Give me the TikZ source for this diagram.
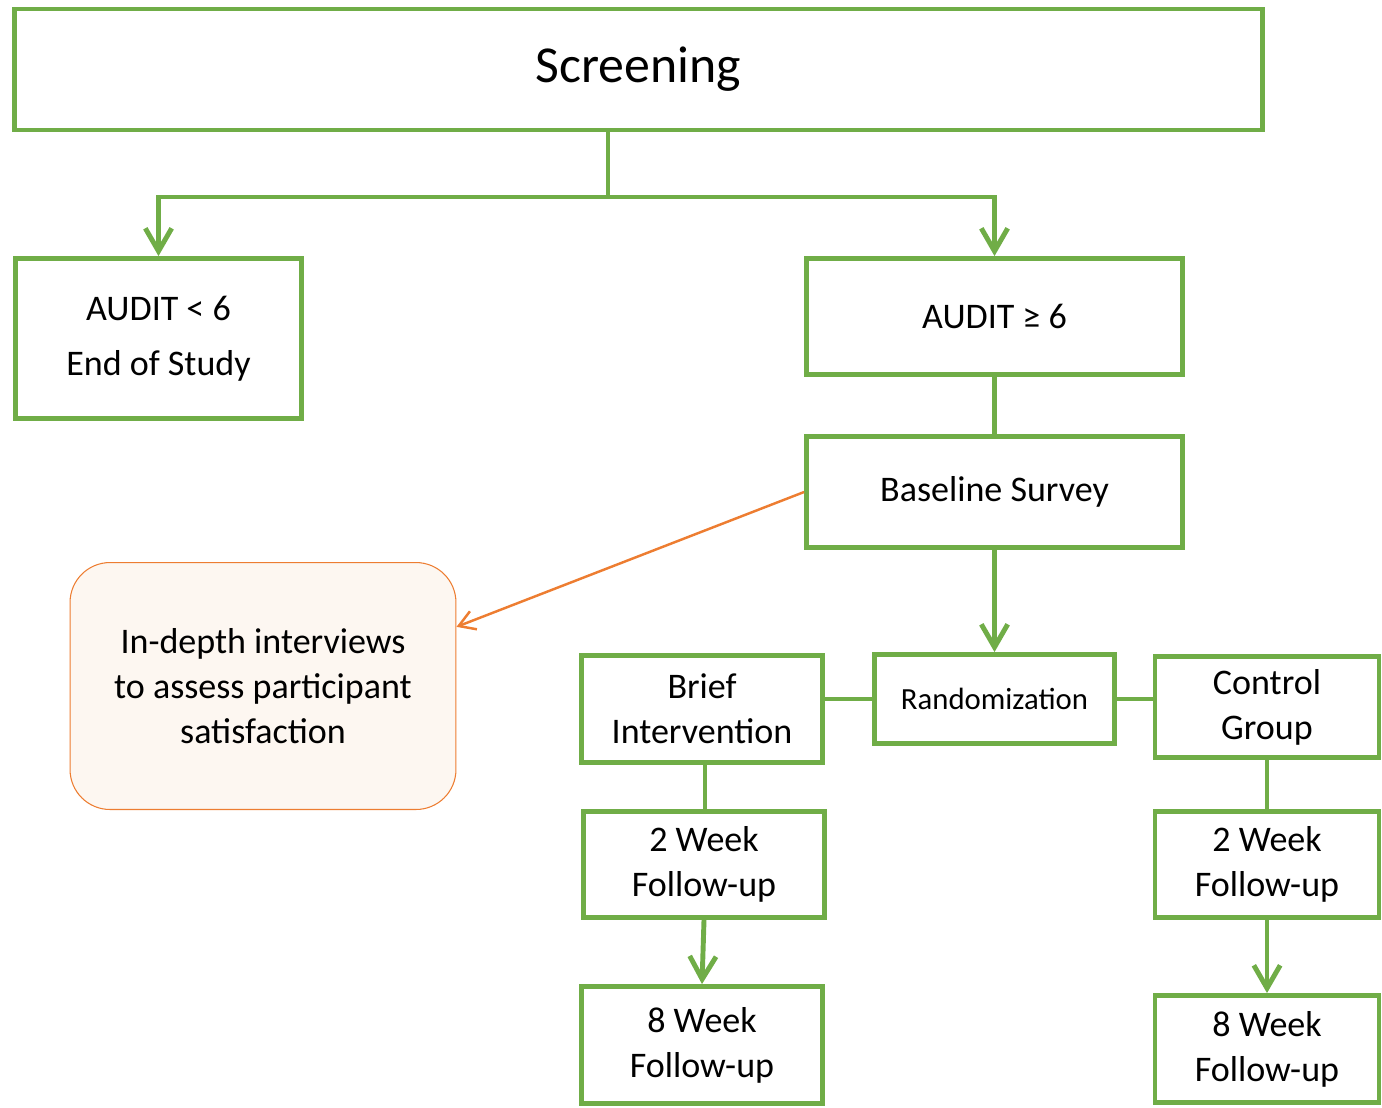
\documentclass[tikz,border=0pt]{standalone}
\usepackage{fontspec}
\setmainfont{Carlito}
\usepackage{xcolor}
\usepackage{tikz}
\usetikzlibrary{arrows.meta}
\definecolor{boxgreen}{HTML}{70AD47}
\definecolor{boxorange}{HTML}{ED7D31}
\definecolor{softorange}{HTML}{FDF7F1}

\begin{document}
\begin{tikzpicture}[x=0.02cm,y=-0.02cm,
	box/.style={draw=boxgreen,line width=2.8pt,fill=white,align=center,inner sep=0pt,font=\fontsize{20.5}{25.5}\selectfont},
	garrow/.style={draw=boxgreen,line width=2.8pt,-{Straight Barb[length=13pt,width=15pt]}},
	gline/.style={draw=boxgreen,line width=2.8pt}]
	\useasboundingbox (0,0) rectangle (1382,1107);
	\node[box,minimum width=24.96cm,minimum height=2.42cm,font=\fontsize{29.5}{35}\selectfont] (screen) at (638.5,69.5) {Screening};
	\node[box,minimum width=5.72cm,minimum height=3.2cm] (low) at (158.5,338.5) {AUDIT < 6\\[6pt]End of Study};
	\node[box,minimum width=7.52cm,minimum height=2.32cm] (high) at (994.5,316.5) {AUDIT ≥ 6};
	\node[box,minimum width=7.52cm,minimum height=2.22cm] (base) at (994.5,492) {Baseline Survey};
	\node[box,draw=boxorange,line width=0.6pt,fill=softorange,rounded corners=0.8cm,minimum width=7.72cm,minimum height=4.94cm] (interview) at (263,686) {In-depth interviews\\to assess participant\\satisfaction};
	\node[box,minimum width=4.82cm,minimum height=2.14cm] (brief) at (702,709) {Brief\\Intervention};
	\node[box,minimum width=4.8cm,minimum height=1.78cm,font=\fontsize{17.5}{21}\selectfont] (random) at (994.5,699) {Randomization};
	\node[box,minimum width=4.48cm,minimum height=2.02cm] (control) at (1267,707) {Control\\Group};
	\node[box,minimum width=4.82cm,minimum height=2.12cm] (twoA) at (704,864.5) {2 Week\\Follow-up};
	\node[box,minimum width=4.82cm,minimum height=2.34cm] (eightA) at (702,1045) {8 Week\\Follow-up};
	\node[box,minimum width=4.48cm,minimum height=2.12cm] (twoB) at (1267,864.5) {2 Week\\Follow-up};
	\node[box,minimum width=4.48cm,minimum height=2.14cm] (eightB) at (1267,1049) {8 Week\\Follow-up};
	\coordinate (split) at (608,197);
	\draw[gline] (screen.south -| split) -- (split);
	\draw[garrow] (split) -| (low.north);
	\draw[garrow] (split) -| (high.north);
	\draw[gline] (high) -- (base);
	\draw[garrow] (base.south) -- (random.north);
	\draw[gline] (random.west) -- (random.west -| brief.east);
	\draw[gline] (random.east) -- (random.east -| control.west);
	\draw[gline] (twoA.north -| 705,0) -- (brief.south -| 705,0);
	\draw[garrow] (twoA.south) -- (eightA.north);
	\draw[gline] (control.south) -- (twoB.north);
	\draw[garrow] (twoB.south) -- (eightB.north);
	\draw[boxorange,line width=1.4pt,-{Straight Barb[length=9pt,width=11pt]}] (base.west) -- (interview.17);
\end{tikzpicture}
\end{document}
